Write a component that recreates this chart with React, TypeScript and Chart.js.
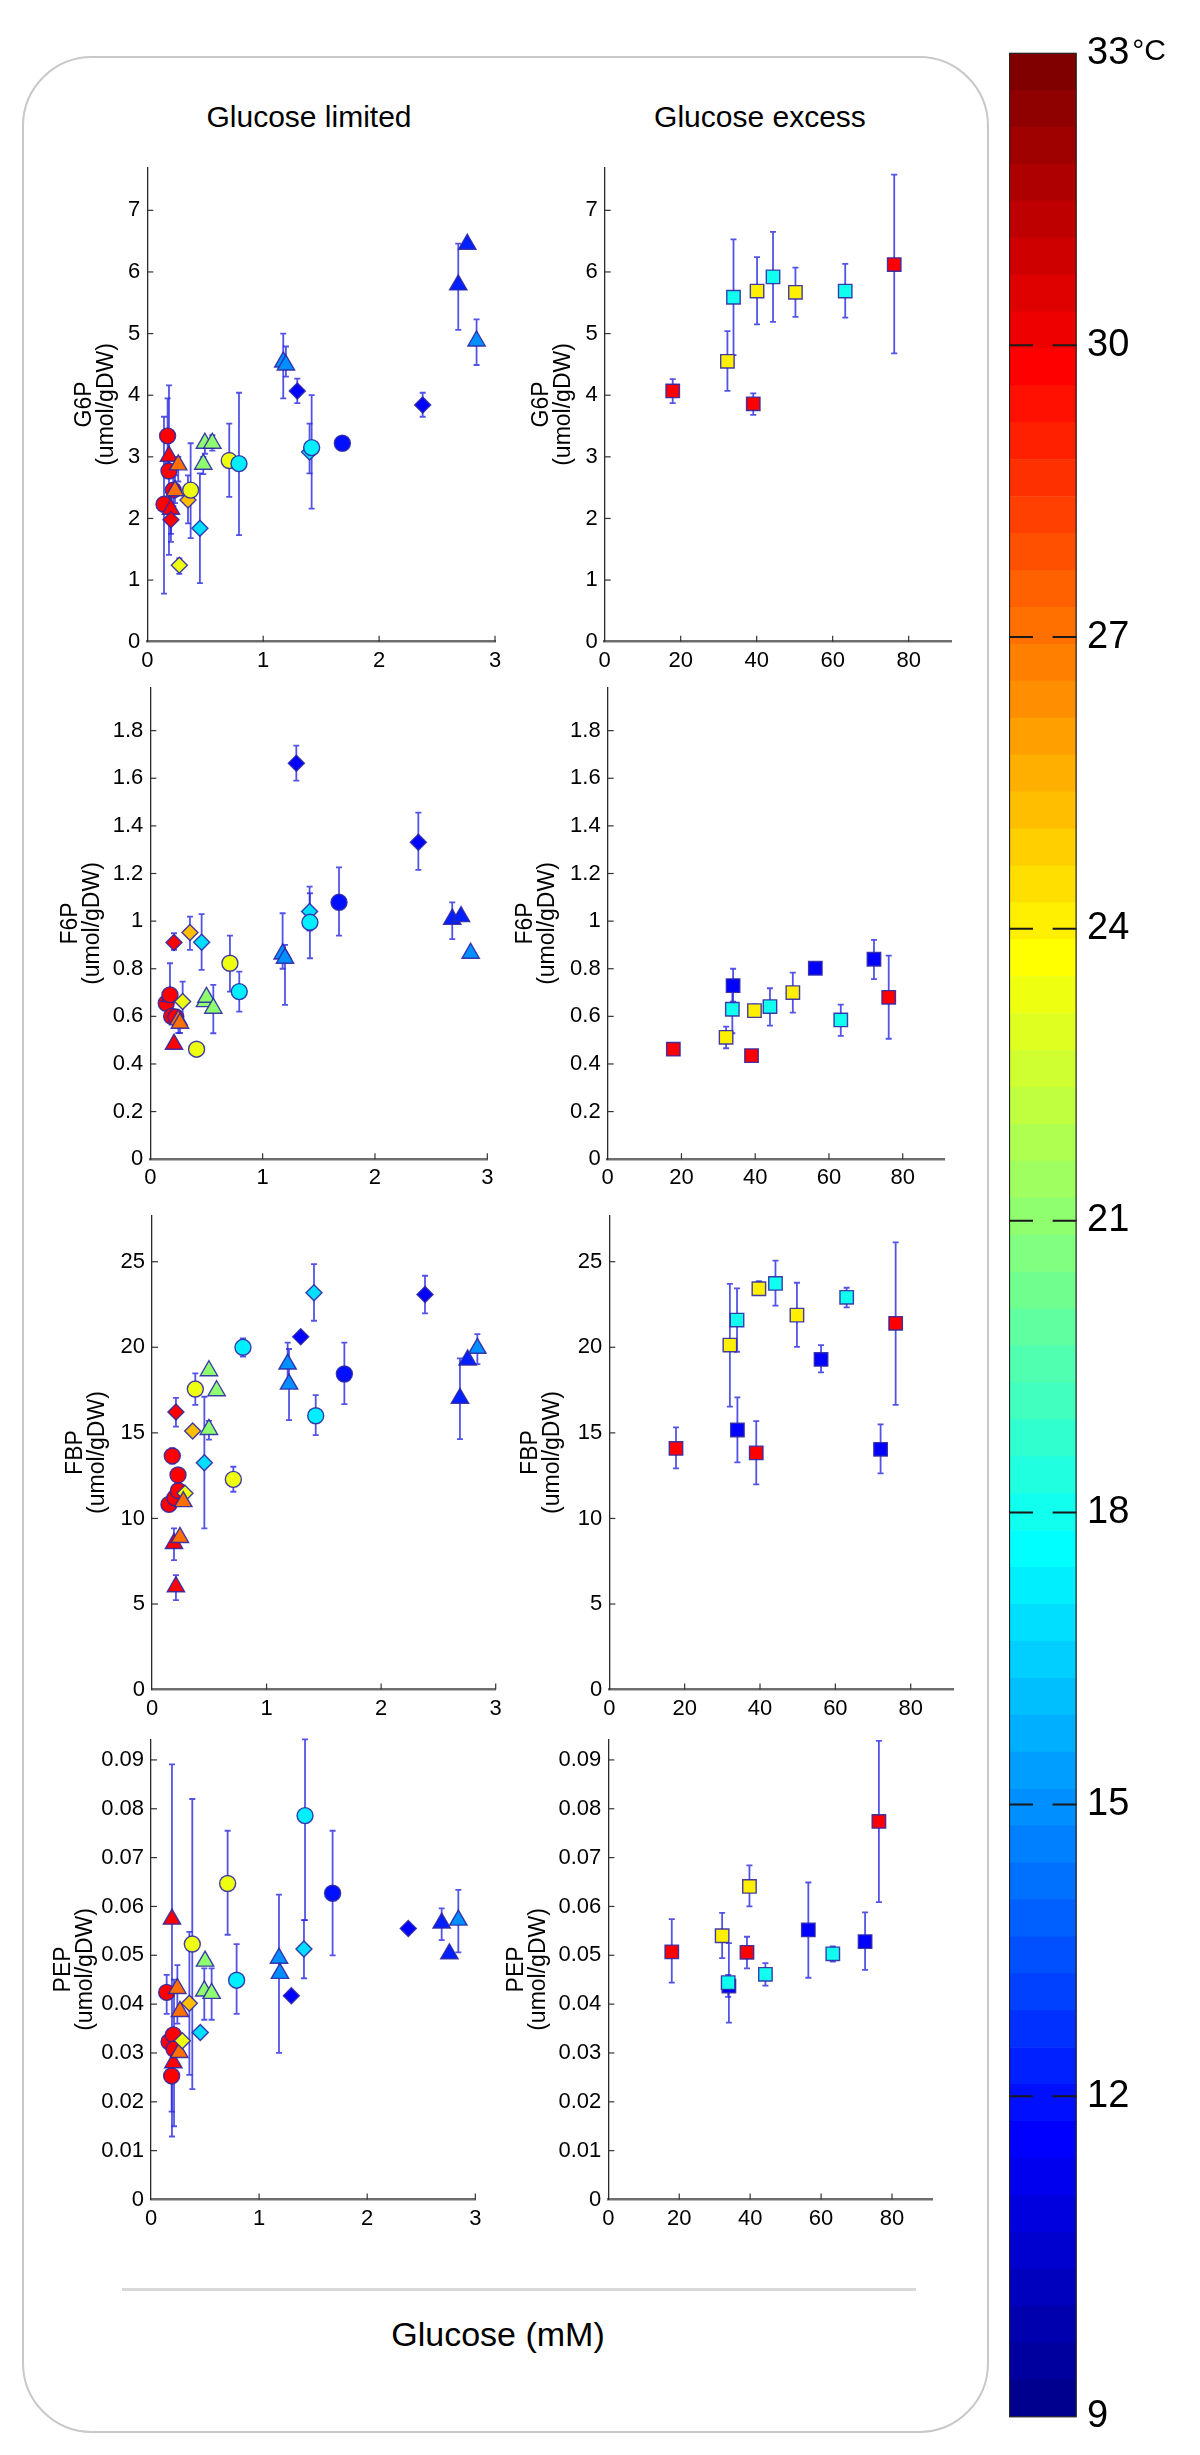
import React, { useEffect, useRef } from 'react';
import { Chart, registerables } from 'chart.js';

Chart.register(...registerables);

const FONT = "'Liberation Sans', Arial, Helvetica, sans-serif";
Chart.defaults.font.family = FONT;

// ---------- DATA ----------
// Row format: [glucose mM, value, errLow, errHigh, temperature °C, marker]
// marker: c = circle, t = triangle, d = diamond, s = square
type Row = [number, number, number | null, number | null, number, string];

const COLUMN_TITLES = ['Glucose limited', 'Glucose excess'];
const METABOLITES = ['G6P', 'F6P', 'FBP', 'PEP'];
const UNIT_LABEL = '(umol/gDW)';
const X_LABEL = 'Glucose (mM)';

const X_TICKS_LIMITED = [0, 1, 2, 3];
const X_TICKS_EXCESS = [0, 20, 40, 60, 80];
const X_MAX_LIMITED = 3;
const X_MAX_EXCESS = 91.3;

const Y_TICKS_G6P = [0, 1, 2, 3, 4, 5, 6, 7];
const Y_TICKS_F6P = [0, 0.2, 0.4, 0.6, 0.8, 1, 1.2, 1.4, 1.6, 1.8];
const Y_TICKS_FBP = [0, 5, 10, 15, 20, 25];
const Y_TICKS_PEP = [0, 0.01, 0.02, 0.03, 0.04, 0.05, 0.06, 0.07, 0.08, 0.09];
const Y_MAX = [7.7, 1.98, 27.7, 0.0942];

const COLORBAR_TICKS = [9, 12, 15, 18, 21, 24, 27, 30, 33];
const COLORBAR_MIN = 9;
const COLORBAR_MAX = 33;

const G6P_LIMITED: Row[] = [
  [0.144, 2.23, 0.78, 3.65, 29.8, 'c'],
  [0.187, 3.01, 1.41, 4.16, 29.8, 't'],
  [0.175, 3.34, 2.9, 3.95, 29.8, 'c'],
  [0.187, 2.77, null, null, 29.8, 'c'],
  [0.204, 2.15, 1.75, 2.5, 29.8, 't'],
  [0.204, 1.98, 1.62, 2.14, 29.8, 'd'],
  [0.224, 2.46, 2.2, 2.75, 29.8, 'c'],
  [0.267, 2.87, 2.6, 3.0, 27, 't'],
  [0.239, 2.45, 2.25, 2.7, 27, 't'],
  [0.351, 2.3, 1.92, 2.7, 25.2, 'd'],
  [0.374, 2.46, 1.68, 3.22, 23.3, 'c'],
  [0.276, 1.24, 1.1, 1.35, 23.3, 'd'],
  [0.454, 1.84, 0.95, 2.73, 17, 'd'],
  [0.483, 2.88, 2.72, 3.0, 21, 't'],
  [0.497, 3.22, 3.05, 3.3, 21, 't'],
  [0.561, 3.22, 3.1, 3.35, 21, 't'],
  [0.707, 2.94, 2.35, 3.54, 23.3, 'c'],
  [0.791, 2.89, 1.73, 4.04, 17.5, 'c'],
  [1.173, 4.54, 3.95, 5.0, 15, 't'],
  [1.196, 4.49, 4.3, 4.79, 15, 't'],
  [1.294, 4.07, 3.87, 4.27, 11.8, 'd'],
  [1.4, 3.08, 2.73, 3.54, 17, 'd'],
  [1.418, 3.15, 2.16, 4.0, 17.5, 'c'],
  [1.683, 3.22, null, null, 12.2, 'c'],
  [2.376, 3.84, 3.65, 4.04, 11.8, 'd'],
  [2.683, 5.79, 5.06, 6.46, 12.5, 't'],
  [2.761, 6.45, null, null, 12.5, 't'],
  [2.841, 4.88, 4.49, 5.23, 15, 't'],
];

const G6P_EXCESS: Row[] = [
  [17.9, 4.07, 3.87, 4.26, 29.8, 's'],
  [32.3, 4.55, 4.07, 5.04, 24, 's'],
  [33.9, 5.59, 4.65, 6.53, 18, 's'],
  [39.1, 3.86, 3.68, 4.03, 29.8, 's'],
  [40.1, 5.69, 5.15, 6.24, 24, 's'],
  [44.3, 5.92, 5.19, 6.65, 18, 's'],
  [50.2, 5.67, 5.27, 6.07, 24, 's'],
  [63.3, 5.69, 5.26, 6.13, 18, 's'],
  [76.2, 6.12, 4.68, 7.58, 29.8, 's'],
];

const F6P_LIMITED: Row[] = [
  [0.142, 0.655, null, null, 29.8, 'c'],
  [0.175, 0.683, 0.62, 0.823, 29.8, 't'],
  [0.175, 0.69, null, null, 29.8, 'c'],
  [0.19, 0.6, null, null, 29.8, 'c'],
  [0.227, 0.597, null, null, 29.8, 'c'],
  [0.211, 0.483, null, null, 29.8, 't'],
  [0.211, 0.91, 0.879, 0.949, 29.8, 'd'],
  [0.25, 0.585, 0.53, 0.62, 27, 't'],
  [0.264, 0.571, 0.53, 0.6, 27, 't'],
  [0.288, 0.662, 0.571, 0.746, 23.3, 'd'],
  [0.353, 0.952, 0.879, 1.019, 25.2, 'd'],
  [0.412, 0.462, null, null, 23.3, 'c'],
  [0.457, 0.911, 0.795, 1.029, 17, 'd'],
  [0.487, 0.662, null, null, 21, 't'],
  [0.5, 0.68, null, null, 21, 't'],
  [0.561, 0.634, 0.529, 0.732, 21, 't'],
  [0.709, 0.823, 0.704, 0.939, 23.3, 'c'],
  [0.792, 0.704, 0.62, 0.788, 17.5, 'c'],
  [1.178, 0.862, 0.8, 1.033, 15, 't'],
  [1.199, 0.844, 0.648, 0.9, 15, 't'],
  [1.3, 1.663, 1.59, 1.737, 11.8, 'd'],
  [1.418, 1.04, 0.96, 1.145, 17, 'd'],
  [1.421, 0.995, 0.844, 1.117, 17.5, 'c'],
  [1.68, 1.079, 0.939, 1.226, 12.2, 'c'],
  [2.386, 1.331, 1.215, 1.456, 11.8, 'd'],
  [2.688, 1.008, 0.924, 1.079, 12.5, 't'],
  [2.766, 1.019, null, null, 12.5, 't'],
  [2.852, 0.865, null, null, 15, 't'],
];

const F6P_EXCESS: Row[] = [
  [17.8, 0.462, null, null, 29.8, 's'],
  [32.1, 0.512, 0.466, 0.557, 24, 's'],
  [33.8, 0.63, 0.529, 0.725, 18, 's'],
  [34.0, 0.729, 0.662, 0.8, 11.8, 's'],
  [39.0, 0.435, null, null, 29.8, 's'],
  [39.8, 0.624, 0.6, 0.65, 24, 's'],
  [44.0, 0.641, 0.561, 0.718, 18, 's'],
  [50.2, 0.7, 0.616, 0.784, 24, 's'],
  [56.3, 0.802, null, null, 11.8, 's'],
  [63.2, 0.585, 0.518, 0.649, 18, 's'],
  [72.2, 0.84, 0.756, 0.921, 11.8, 's'],
  [76.2, 0.68, 0.506, 0.855, 29.8, 's'],
];

const FBP_LIMITED: Row[] = [
  [0.209, 6.01, 5.23, 6.69, 29.8, 't'],
  [0.192, 8.54, 7.57, 9.42, 29.8, 't'],
  [0.244, 8.89, null, null, 27, 't'],
  [0.148, 10.82, null, null, 29.8, 'c'],
  [0.2, 11.2, null, null, 29.8, 'c'],
  [0.23, 11.62, 11.0, 12.2, 29.8, 'c'],
  [0.288, 11.47, null, null, 23.3, 'd'],
  [0.273, 10.98, null, null, 27, 't'],
  [0.227, 12.54, null, null, 29.8, 'c'],
  [0.177, 13.65, 13.2, 14.1, 29.8, 'c'],
  [0.209, 16.22, 15.36, 17.05, 29.8, 'd'],
  [0.355, 15.11, null, null, 25.2, 'd'],
  [0.378, 17.56, 16.63, 18.48, 23.3, 'c'],
  [0.457, 13.26, 9.42, 17.11, 17, 'd'],
  [0.497, 15.2, 14.6, 15.7, 21, 't'],
  [0.497, 18.63, null, null, 21, 't'],
  [0.564, 17.46, null, null, 21, 't'],
  [0.71, 12.28, 11.56, 13.02, 23.3, 'c'],
  [0.794, 20.0, 19.45, 20.52, 17.5, 'c'],
  [1.184, 19.02, 18.0, 20.27, 15, 't'],
  [1.196, 17.85, 15.75, 19.9, 15, 't'],
  [1.298, 20.62, null, null, 11.8, 'd'],
  [1.414, 23.19, 21.55, 24.86, 17, 'd'],
  [1.429, 16.0, 14.87, 17.21, 17.5, 'c'],
  [1.679, 18.44, 16.68, 20.27, 12.2, 'c'],
  [2.383, 23.09, 21.98, 24.18, 11.8, 'd'],
  [2.688, 17.02, 14.64, 19.35, 12.5, 't'],
  [2.755, 19.26, null, null, 12.5, 't'],
  [2.84, 19.94, 19.02, 20.77, 15, 't'],
];

const FBP_EXCESS: Row[] = [
  [17.7, 14.09, 12.93, 15.32, 29.8, 's'],
  [32.0, 20.13, 16.53, 23.7, 24, 's'],
  [33.9, 21.59, 19.74, 23.44, 18, 's'],
  [34.0, 15.17, 13.28, 17.07, 11.8, 's'],
  [39.0, 13.83, 11.99, 15.69, 29.8, 's'],
  [39.7, 23.42, 23.2, 23.87, 24, 's'],
  [44.1, 23.73, 22.43, 25.06, 18, 's'],
  [49.8, 21.88, 20.03, 23.77, 24, 's'],
  [56.2, 19.29, 18.53, 20.13, 11.8, 's'],
  [63.0, 22.92, 22.33, 23.48, 18, 's'],
  [72.0, 14.04, 12.63, 15.5, 11.8, 's'],
  [76.0, 21.4, 16.63, 26.13, 29.8, 's'],
];

const PEP_LIMITED: Row[] = [
  [0.194, 0.0574, 0.0129, 0.0891, 29.8, 't'],
  [0.145, 0.0424, 0.038, 0.046, 29.8, 'c'],
  [0.167, 0.0323, null, null, 29.8, 'c'],
  [0.207, 0.0337, null, null, 29.8, 'c'],
  [0.213, 0.0308, 0.015, 0.045, 29.8, 'c'],
  [0.191, 0.0253, 0.018, 0.033, 29.8, 'c'],
  [0.207, 0.028, null, null, 29.8, 't'],
  [0.244, 0.0432, 0.036, 0.048, 27, 't'],
  [0.268, 0.0385, null, null, 27, 't'],
  [0.262, 0.0301, null, null, 27, 't'],
  [0.29, 0.0325, null, null, 23.3, 'd'],
  [0.355, 0.0402, 0.0255, 0.0548, 25.2, 'd'],
  [0.382, 0.0523, 0.0226, 0.082, 23.3, 'c'],
  [0.456, 0.0342, null, null, 17, 'd'],
  [0.5, 0.0488, null, null, 21, 't'],
  [0.493, 0.0427, 0.0368, 0.0473, 21, 't'],
  [0.561, 0.0422, 0.0368, 0.0473, 21, 't'],
  [0.709, 0.0647, 0.0542, 0.0755, 23.3, 'c'],
  [0.792, 0.0449, 0.038, 0.0523, 17.5, 'c'],
  [1.184, 0.0494, 0.03, 0.0624, 15, 't'],
  [1.193, 0.0463, null, null, 15, 't'],
  [1.298, 0.0417, null, null, 11.8, 'd'],
  [1.415, 0.0513, 0.0453, 0.0572, 17, 'd'],
  [1.425, 0.0786, 0.0572, 0.0942, 17.5, 'c'],
  [1.68, 0.0627, 0.05, 0.0755, 12.2, 'c'],
  [2.38, 0.0555, null, null, 11.8, 'd'],
  [2.689, 0.0566, 0.0531, 0.0596, 12.5, 't'],
  [2.76, 0.0503, null, null, 12.5, 't'],
  [2.843, 0.0572, 0.0506, 0.0634, 15, 't'],
];

const PEP_EXCESS: Row[] = [
  [17.9, 0.0507, 0.0444, 0.0574, 29.8, 's'],
  [32.1, 0.054, 0.0494, 0.0587, 24, 's'],
  [34.0, 0.0437, 0.0362, 0.0525, 11.8, 's'],
  [33.8, 0.0444, 0.0415, 0.046, 18, 's'],
  [39.1, 0.0506, 0.0473, 0.0538, 29.8, 's'],
  [39.8, 0.0641, 0.06, 0.0684, 24, 's'],
  [44.3, 0.0461, 0.0438, 0.0484, 18, 's'],
  [56.4, 0.0552, 0.0454, 0.0649, 11.8, 's'],
  [63.3, 0.0503, 0.0487, 0.0518, 18, 's'],
  [72.4, 0.0528, 0.047, 0.0588, 11.8, 's'],
  [76.3, 0.0774, 0.0609, 0.0939, 29.8, 's'],
];

// ---------- STYLE / LAYOUT ----------
const ERR_COLOR = 'rgba(40,40,225,0.8)';
const EDGE_COLOR = 'rgba(45,40,165,0.9)';
const MARKER_STYLE: Record<string, string> = { c: 'circle', t: 'triangle', d: 'rectRot', s: 'rect' };
const MARKER_RADIUS: Record<string, number> = { c: 8, t: 10, d: 8, s: 9.5 };

// plot boxes in page pixels (left, right, top, bottom) and ylabel first-line centre
const LAYOUT = [
  { l: 147.3, r: 495, t: 167.2, b: 641.7, yl: 85 },
  { l: 604.7, r: 951.6, t: 167.2, b: 641.7, yl: 542 },
  { l: 150.3, r: 487.3, t: 687.8, b: 1159.2, yl: 71 },
  { l: 607.7, r: 944.4, t: 687.8, b: 1159.2, yl: 526 },
  { l: 152, r: 495.7, t: 1215.5, b: 1689.6, yl: 76 },
  { l: 609.3, r: 953.3, t: 1215.5, b: 1689.6, yl: 531 },
  { l: 151, r: 475.3, t: 1739.4, b: 2199.5, yl: 64 },
  { l: 608.3, r: 932.1, t: 1739.4, b: 2199.5, yl: 517 },
];

function jet64(i1: number): [number, number, number] {
  const r = i1 < 25 ? 0 : i1 <= 40 ? (i1 - 24) / 16 : i1 <= 55 ? 1 : (72 - i1) / 16;
  const g = i1 < 9 ? 0 : i1 <= 24 ? (i1 - 8) / 16 : i1 <= 39 ? 1 : i1 <= 55 ? (56 - i1) / 16 : 0;
  const b = i1 <= 8 ? (i1 + 8) / 16 : i1 <= 24 ? 1 : i1 <= 39 ? (40 - i1) / 16 : 0;
  return [r, g, b];
}
function rgbCss(c: [number, number, number]) {
  return `rgb(${Math.round(c[0] * 255)},${Math.round(c[1] * 255)},${Math.round(c[2] * 255)})`;
}
function tempColor(T: number) {
  const idx = Math.min(64, Math.max(1, Math.floor(((T - COLORBAR_MIN) / (COLORBAR_MAX - COLORBAR_MIN)) * 64) + 1));
  return rgbCss(jet64(idx));
}

const errorBarPlugin = {
  id: 'errorBars',
  beforeDatasetsDraw(chart: any) {
    const { ctx, chartArea, scales } = chart;
    const xs = scales.x, ys = scales.y;
    ctx.save();
    ctx.beginPath();
    ctx.rect(chartArea.left, chartArea.top - 2, chartArea.right - chartArea.left, chartArea.bottom - chartArea.top + 2);
    ctx.clip();
    ctx.strokeStyle = ERR_COLOR;
    ctx.lineWidth = 1.8;
    chart.data.datasets.forEach((ds: any) => {
      ds.data.forEach((p: any) => {
        if (p.lo == null || p.hi == null) return;
        const px = xs.getPixelForValue(p.x);
        const y1 = ys.getPixelForValue(p.lo);
        const y2 = ys.getPixelForValue(p.hi);
        ctx.beginPath();
        ctx.moveTo(px, y1);
        ctx.lineTo(px, y2);
        ctx.moveTo(px - 3, y1);
        ctx.lineTo(px + 3, y1);
        ctx.moveTo(px - 3, y2);
        ctx.lineTo(px + 3, y2);
        ctx.stroke();
      });
    });
    ctx.restore();
  },
};

const innerTicksPlugin = {
  id: 'innerTicks',
  afterDraw(chart: any) {
    const { ctx, chartArea, scales } = chart;
    ctx.save();
    ctx.strokeStyle = '#333';
    ctx.lineWidth = 1.2;
    scales.x.ticks.forEach((t: any) => {
      const px = scales.x.getPixelForValue(t.value);
      if (Math.abs(px - chartArea.left) < 1) return;
      ctx.beginPath();
      ctx.moveTo(px, chartArea.bottom);
      ctx.lineTo(px, chartArea.bottom - 6);
      ctx.stroke();
    });
    scales.y.ticks.forEach((t: any) => {
      const py = scales.y.getPixelForValue(t.value);
      if (Math.abs(py - chartArea.bottom) < 1) return;
      ctx.beginPath();
      ctx.moveTo(chartArea.left, py);
      ctx.lineTo(chartArea.left + 6, py);
      ctx.stroke();
    });
    ctx.restore();
  },
};

const Y_AXIS_W = 110;
const PAD_TOP = 20;
const PAD_RIGHT = 20;
const X_AXIS_H = 40;

type PanelProps = {
  rows: Row[];
  xTicks: number[];
  xMax: number;
  yTicks: number[];
  yMax: number;
  label: string;
  box: { l: number; r: number; t: number; b: number; yl: number };
};

function Panel({ rows, xTicks, xMax, yTicks, yMax, label, box }: PanelProps) {
  const ref = useRef<HTMLCanvasElement>(null);
  const left = Math.floor(box.l - Y_AXIS_W);
  const top = Math.floor(box.t - PAD_TOP);
  const width = Math.ceil(box.r + PAD_RIGHT - left);
  const height = Math.ceil(box.b + X_AXIS_H - top);

  useEffect(() => {
    const yW = box.l - left;
    const padTop = box.t - top;
    const padRight = width - (box.r - left);
    const xH = height - (box.b - top);
    const titleLH = 21.5;
    const titlePad = box.yl - left - titleLH / 2;
    const tickFont = { family: FONT, size: 22 };
    const chart = new Chart(ref.current as HTMLCanvasElement, {
      type: 'scatter',
      data: {
        datasets: [
          {
            data: rows.map((r) => ({ x: r[0], y: r[1], lo: r[2], hi: r[3] })) as any,
            pointStyle: rows.map((r) => MARKER_STYLE[r[5]]) as any,
            pointRadius: rows.map((r) => MARKER_RADIUS[r[5]]),
            pointBackgroundColor: rows.map((r) => tempColor(r[4])),
            pointBorderColor: EDGE_COLOR,
            pointBorderWidth: 1.4,
          },
        ],
      },
      options: {
        animation: false,
        responsive: false,
        maintainAspectRatio: false,
        events: [],
        clip: false as any,
        layout: { padding: { left: 0, top: padTop, right: padRight, bottom: 0 } },
        plugins: { legend: { display: false }, tooltip: { enabled: false } },
        scales: {
          x: {
            type: 'linear',
            min: 0,
            max: xMax,
            afterBuildTicks: (s: any) => {
              s.ticks = xTicks.map((v) => ({ value: v }));
            },
            afterFit: (s: any) => {
              s.height = xH;
            },
            grid: { display: false, drawTicks: false },
            border: { display: true, color: '#6e6e6e', width: 2.5 },
            ticks: {
              padding: 6,
              font: tickFont,
              color: '#000',
              maxRotation: 0,
              autoSkip: false,
              callback: (v: any) => String(v),
            },
          },
          y: {
            type: 'linear',
            min: 0,
            max: yMax,
            afterBuildTicks: (s: any) => {
              s.ticks = yTicks.map((v) => ({ value: v }));
            },
            afterFit: (s: any) => {
              s.width = yW;
            },
            grid: { display: false, drawTicks: false },
            border: { display: true, color: '#2a2a2a', width: 1.3 },
            ticks: {
              padding: 7,
              font: tickFont,
              color: '#000',
              autoSkip: false,
              callback: (v: any) => String(v),
            },
            title: {
              display: true,
              text: [label, UNIT_LABEL],
              font: { family: FONT, size: 23, lineHeight: titleLH / 23 },
              color: '#000',
              padding: { top: titlePad, bottom: 0 },
            },
          },
        },
      } as any,
      plugins: [errorBarPlugin, innerTicksPlugin],
    });
    return () => chart.destroy();
  }, []);

  return (
    <canvas
      ref={ref}
      width={width}
      height={height}
      style={{ position: 'absolute', left, top, width, height }}
    />
  );
}

// Colour bar (page layout)
const CB = { left: 1009, top: 20, areaW: 67.6, areaTop: 53.3, areaBottom: 2422, width: 190, pxPerDeg: 97.5 };

function ColorBar() {
  const ref = useRef<HTMLCanvasElement>(null);
  const height = Math.ceil(CB.areaBottom + 28 - CB.top);
  useEffect(() => {
    const scaleMin = COLORBAR_MAX - (CB.areaBottom - CB.areaTop) / CB.pxPerDeg;
    const segs = 64;
    const step = (COLORBAR_MAX - scaleMin) / segs;
    const datasets = Array.from({ length: segs }, (_, i) => ({
      data: [[scaleMin + i * step, scaleMin + (i + 1) * step]],
      backgroundColor: rgbCss(jet64(i + 1)),
      borderWidth: 0,
      grouped: false,
      barPercentage: 1,
      categoryPercentage: 1,
    }));
    const labelPad = 10.4;
    const cbPlugin = {
      id: 'cbDecor',
      afterDraw(chart: any) {
        const { ctx, chartArea } = chart;
        const ys = chart.scales.y;
        ctx.save();
        ctx.strokeStyle = '#1a1a1a';
        ctx.lineWidth = 2;
        COLORBAR_TICKS.forEach((v) => {
          if (v === COLORBAR_MIN || v === COLORBAR_MAX) return;
          const py = ys.getPixelForValue(v);
          ctx.beginPath();
          ctx.moveTo(chartArea.left, py);
          ctx.lineTo(chartArea.left + 24, py);
          ctx.moveTo(chartArea.right - 24, py);
          ctx.lineTo(chartArea.right, py);
          ctx.stroke();
        });
        ctx.lineWidth = 1.2;
        ctx.strokeStyle = '#222';
        ctx.strokeRect(chartArea.left + 0.5, chartArea.top, chartArea.right - chartArea.left - 1, chartArea.bottom - chartArea.top);
        ctx.font = `38px ${FONT}`;
        const w = ctx.measureText(String(COLORBAR_MAX)).width;
        const py = ys.getPixelForValue(COLORBAR_MAX);
        ctx.font = `30px ${FONT}`;
        ctx.fillStyle = '#000';
        ctx.textBaseline = 'alphabetic';
        ctx.textAlign = 'left';
        ctx.fillText('°C', ys.left + labelPad + w + 3, py + 7);
        ctx.restore();
      },
    };
    const chart = new Chart(ref.current as HTMLCanvasElement, {
      type: 'bar',
      data: { labels: ['T'], datasets: datasets as any },
      options: {
        animation: false,
        responsive: false,
        maintainAspectRatio: false,
        events: [],
        layout: {
          padding: { left: 0, right: 0, top: CB.areaTop - CB.top, bottom: height - (CB.areaBottom - CB.top) },
        },
        plugins: { legend: { display: false }, tooltip: { enabled: false } },
        scales: {
          x: { display: false, stacked: false },
          y: {
            position: 'right',
            min: scaleMin,
            max: COLORBAR_MAX,
            afterBuildTicks: (s: any) => {
              s.ticks = COLORBAR_TICKS.map((v) => ({ value: v === COLORBAR_MIN ? scaleMin : v }));
            },
            afterFit: (s: any) => {
              s.width = CB.width - CB.areaW;
            },
            grid: { display: false, drawTicks: false },
            border: { display: false },
            ticks: {
              padding: labelPad,
              font: { family: FONT, size: 38 },
              color: '#000',
              autoSkip: false,
              callback: (_v: any, i: number) => String(COLORBAR_TICKS[i]),
            },
          },
        },
      } as any,
      plugins: [cbPlugin],
    });
    return () => chart.destroy();
  }, []);
  return (
    <canvas
      ref={ref}
      width={CB.width}
      height={height}
      style={{ position: 'absolute', left: CB.left, top: CB.top, width: CB.width, height }}
    />
  );
}

const PANEL_DATA: Row[][] = [G6P_LIMITED, G6P_EXCESS, F6P_LIMITED, F6P_EXCESS, FBP_LIMITED, FBP_EXCESS, PEP_LIMITED, PEP_EXCESS];
const PANEL_Y_TICKS = [Y_TICKS_G6P, Y_TICKS_F6P, Y_TICKS_FBP, Y_TICKS_PEP];

export default function App() {
  useEffect(() => {
    document.body.style.margin = '0';
    document.body.style.background = '#fff';
  }, []);
  const titleStyle: React.CSSProperties = {
    position: 'absolute',
    top: 102,
    width: 400,
    textAlign: 'center',
    fontSize: 30,
    lineHeight: '30px',
    color: '#000',
  };
  return (
    <div style={{ position: 'absolute', left: 0, top: 0, width: 1200, height: 2455, background: '#fff', fontFamily: FONT, overflow: 'hidden' }}>
      <div
        style={{
          position: 'absolute',
          left: 22,
          top: 56,
          width: 967,
          height: 2377,
          border: '2px solid #c8c8c8',
          borderRadius: 70,
          boxSizing: 'border-box',
        }}
      />
      <div style={{ ...titleStyle, left: 109 }}>{COLUMN_TITLES[0]}</div>
      <div style={{ ...titleStyle, left: 560 }}>{COLUMN_TITLES[1]}</div>
      {PANEL_DATA.map((rows, i) => {
        const row = Math.floor(i / 2);
        const excess = i % 2 === 1;
        return (
          <Panel
            key={i}
            rows={rows}
            xTicks={excess ? X_TICKS_EXCESS : X_TICKS_LIMITED}
            xMax={excess ? X_MAX_EXCESS : X_MAX_LIMITED}
            yTicks={PANEL_Y_TICKS[row]}
            yMax={Y_MAX[row]}
            label={METABOLITES[row]}
            box={LAYOUT[i]}
          />
        );
      })}
      <div style={{ position: 'absolute', left: 122, top: 2288, width: 794, height: 3, background: '#d8d8d8' }} />
      <div style={{ position: 'absolute', left: 298, top: 2317, width: 400, textAlign: 'center', fontSize: 34, lineHeight: '34px', color: '#000' }}>
        {X_LABEL}
      </div>
      <ColorBar />
    </div>
  );
}
